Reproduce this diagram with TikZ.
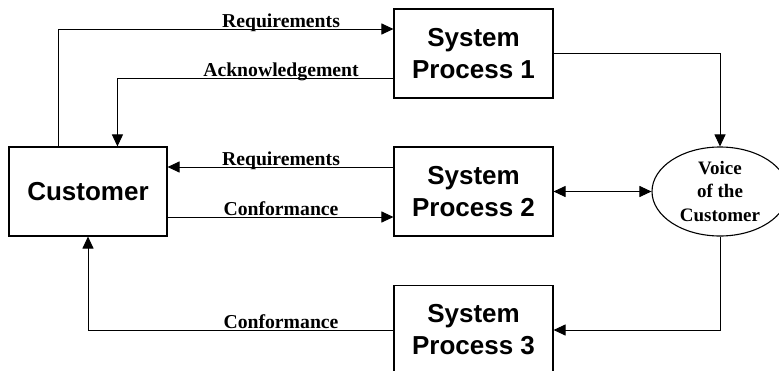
\documentclass[tikz,border=0pt]{standalone}
\usepackage{fontspec}
\newfontfamily\boxfont{Liberation Sans}
\newfontfamily\labfont{Liberation Serif}
\usetikzlibrary{arrows.meta,shapes.geometric}
\tikzset{
  procbox/.style={draw,line width=1.1pt,minimum width=159pt,minimum height=89pt,inner sep=0pt,align=center,
    font=\boxfont\bfseries\fontsize{26}{32}\selectfont},
  vocell/.style={draw,ellipse,line width=1.1pt,minimum width=136pt,minimum height=89pt,inner sep=0pt,align=center,
    font=\labfont\bfseries\fontsize{19}{23.5}\selectfont},
  arr/.style={line width=1pt,-{Triangle[length=12pt,width=11pt]}},
  arrtwo/.style={line width=1pt,{Triangle[length=12pt,width=11pt]}-{Triangle[length=12pt,width=11pt]}},
  lab/.style={anchor=base,inner sep=0pt,font=\labfont\bfseries\fontsize{19.7}{22}\selectfont}
}
\begin{document}
\begin{tikzpicture}[x=1pt,y=-1pt]
\fill[white] (0,0) rectangle (779,370);
\useasboundingbox (0,0) rectangle (779,370);
\node[procbox] (sp1) at (473.5,53.5) {System\\Process 1};
\node[procbox] (sp2) at (473.5,191.5) {System\\Process 2};
\node[procbox] (sp3) at (473.5,330) {System\\Process 3};
\node[procbox,minimum width=158pt] (cust) at (88,191.5) {Customer};
\node[vocell] (voc) at (720,191.5) {Voice\\of the\\Customer};
\draw[arr] ([xshift=50pt]cust.north west) |- ([yshift=24.5pt]sp1.west);
\draw[arr] ([yshift=-24.5pt]sp1.west) -| ([xshift=109pt]cust.north west);
\draw[arr] ([yshift=24.5pt]sp2.west) -- ([yshift=24.5pt]cust.east);
\draw[arr] ([yshift=-25.5pt]cust.east) -- ([yshift=-25.5pt]sp2.west);
\draw[arr] (sp3.west) -| (cust.south);
\draw[arr] (sp1.east) -| (voc.north);
\draw[arrtwo] (sp2.east) -- (voc.west);
\draw[arr] (voc.south) |- (sp3.east);
\node[lab] (l1) at (281,27.5) {Requirements};
\node[lab] (l2) at (281,76.5) {Acknowledgement};
\node[lab] (l3) at (281,165.5) {Requirements};
\node[lab] (l4) at (281,215.5) {Conformance};
\node[lab] (l5) at (281,328.5) {Conformance};
\end{tikzpicture}
\end{document}
